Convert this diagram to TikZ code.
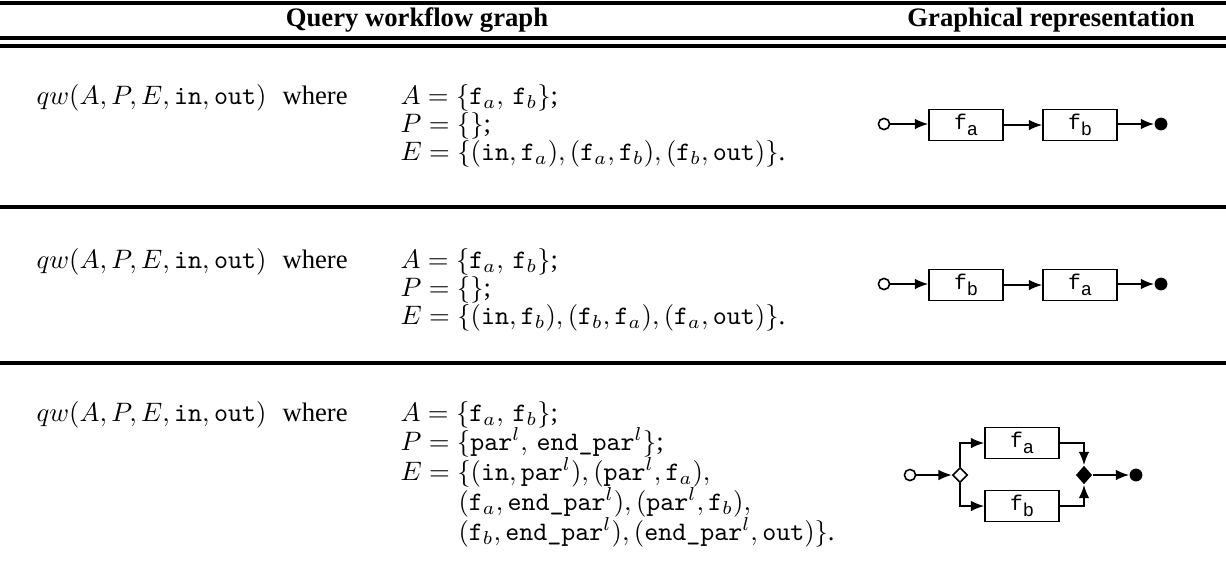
\documentclass[tikz,border=0pt]{standalone}
\usepackage[no-math]{fontspec}
\setmainfont{Liberation Serif}
\newfontfamily\boxfont{Liberation Mono}
\usetikzlibrary{arrows.meta,shapes.geometric}
\newcommand{\bxl}[1]{{\boxfont f\raisebox{-2pt}{\scriptsize\boxfont #1}}}
\newcommand{\tm}[1]{\texttt{#1}}
\begin{document}
\begin{tikzpicture}[x=0.375pt,y=-0.375pt,
  rulebold/.style={line width=1.3pt},
  txt/.style={anchor=base west,inner sep=0pt},
  hdr/.style={anchor=base,inner sep=0pt,font=\bfseries},
  taskbox/.style={draw,line width=0.6pt,minimum width=27.75pt,minimum height=11.6pt,inner sep=0pt,font=\footnotesize},
  conn/.style={line width=0.65pt,-{Latex[length=5pt,width=4pt]}},
  srcnode/.style={circle,draw,line width=0.6pt,fill=white,inner sep=0pt,minimum size=4.2pt},
  sinknode/.style={circle,fill=black,inner sep=0pt,minimum size=4.8pt},
  opendia/.style={diamond,draw,line width=0.6pt,inner sep=0pt,minimum width=5.6pt,minimum height=5.6pt,aspect=1},
  filldia/.style={diamond,fill=black,inner sep=0pt,minimum width=6.2pt,minimum height=7pt}]
\useasboundingbox (0,0) rectangle (1226,580);
% rules
\coordinate (r0l) at (0,3); \coordinate (r0r) at (1226,3);
\coordinate (r1l) at (0,38); \coordinate (r1r) at (1226,38);
\coordinate (r2l) at (0,46); \coordinate (r2r) at (1226,46);
\coordinate (r3l) at (0,207); \coordinate (r3r) at (1226,207);
\coordinate (r4l) at (0,363); \coordinate (r4r) at (1226,363);
\draw[rulebold] (r0l) -- (r0r);
\draw[rulebold] (r1l) -- (r1r);
\draw[rulebold] (r2l) -- (r2r);
\draw[rulebold] (r3l) -- (r3r);
\draw[rulebold] (r4l) -- (r4r);
% header
\node[hdr] (h1) at (417,26) {Query workflow graph};
\node[hdr] (h2) at (1051,26) {Graphical representation};
% row 1
\node[txt] (q1) at (36,104) {$qw(A,P,E,\tm{in},\tm{out})$};
\node[txt] (w1) at (282,104) {where};
\node[txt] (a1) at (400,104) {$A=\{\texttt{f}_a,\,\texttt{f}_b\}$;};
\node[txt] (p1) at (400,132) {$P=\{\}$;};
\node[txt] (e1) at (400,160) {$E=\{(\tm{in},\texttt{f}_a),(\texttt{f}_a,\texttt{f}_b),(\texttt{f}_b,\tm{out})\}$.};
% row 2
\node[txt] (q2) at (36,268) {$qw(A,P,E,\tm{in},\tm{out})$};
\node[txt] (w2) at (282,268) {where};
\node[txt] (a2) at (400,268) {$A=\{\texttt{f}_a,\,\texttt{f}_b\}$;};
\node[txt] (p2) at (400,296) {$P=\{\}$;};
\node[txt] (e2) at (400,324) {$E=\{(\tm{in},\texttt{f}_b),(\texttt{f}_b,\texttt{f}_a),(\texttt{f}_a,\tm{out})\}$.};
% row 3
\node[txt] (q3) at (36,421) {$qw(A,P,E,\tm{in},\tm{out})$};
\node[txt] (w3) at (282,421) {where};
\node[txt] (a3) at (400,421) {$A=\{\texttt{f}_a,\,\texttt{f}_b\}$;};
\node[txt] (p3t) at (400,450) {$P=\{\tm{par}^l,\,\tm{end\_par}^l\}$;};
\node[txt] (e3t) at (400,480) {$E=\{(\tm{in},\tm{par}^l),(\tm{par}^l,\texttt{f}_a),$};
\node[txt] (e3u) at (458,510) {$(\texttt{f}_a,\tm{end\_par}^l),(\tm{par}^l,\texttt{f}_b),$};
\node[txt] (e3v) at (458,540) {$(\texttt{f}_b,\tm{end\_par}^l),(\tm{end\_par}^l,\tm{out})\}$.};
% diagram 1
\node[srcnode] (in1) at (884,124) {};
\node[taskbox] (fa1) at (966,125) {\bxl{a}};
\node[taskbox] (fb1) at (1080,125) {\bxl{b}};
\node[sinknode] (out1) at (1161,124) {};
\draw[conn] (in1) -- (in1 -| fa1.west);
\draw[conn] (fa1) -- (fb1);
\draw[conn] (fb1.east |- out1) -- (out1);
% diagram 2
\node[srcnode] (in2) at (884,284) {};
\node[taskbox] (fb2) at (966,285) {\bxl{b}};
\node[taskbox] (fa2) at (1080,285) {\bxl{a}};
\node[sinknode] (out2) at (1161,284) {};
\draw[conn] (in2) -- (in2 -| fb2.west);
\draw[conn] (fb2) -- (fa2);
\draw[conn] (fa2.east |- out2) -- (out2);
% diagram 3
\node[srcnode] (in3) at (910,475) {};
\node[opendia] (par3) at (960,475) {};
\node[taskbox] (fa3) at (1022,443) {\bxl{a}};
\node[taskbox] (fb3) at (1022,506) {\bxl{b}};
\node[filldia] (end3) at (1084,475) {};
\node[sinknode] (out3) at (1136,475) {};
\draw[conn] (in3) -- (par3);
\draw[conn] (par3.north) |- (fa3.west);
\draw[conn] (par3.south) |- (fb3.west);
\draw[conn] (fa3.east) -| (end3.north);
\draw[conn] (fb3.east) -| (end3.south);
\draw[conn] (end3) -- (out3);
\end{tikzpicture}
\end{document}
